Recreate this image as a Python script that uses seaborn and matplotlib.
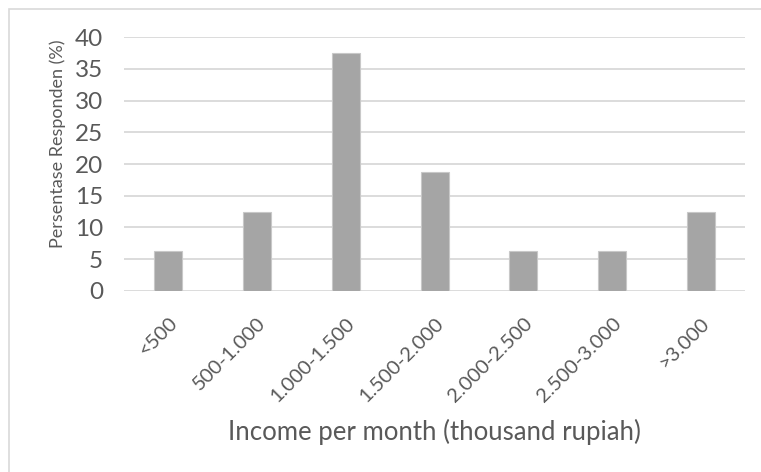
import matplotlib
matplotlib.use("Agg")
import matplotlib.pyplot as plt
import seaborn as sns
import pandas as pd
from matplotlib.patches import Rectangle

categories = ['<500', '500-1.000', '1.000-1.500', '1.500-2.000',
              '2.000-2.500', '2.500-3.000', '>3.000']
persentase = [6.25, 12.5, 37.5, 18.75, 6.25, 6.25, 12.5]

df = pd.DataFrame({'Income': categories, 'Persentase': persentase})

sns.set_style("white")
plt.rcParams['font.family'] = ['Lato', 'DejaVu Sans']

text_color = '#595959'
grid_color = '#d9d9d9'

fig = plt.figure(figsize=(7.61, 4.72), dpi=100)
ax = fig.add_axes([0.163, 0.384, 0.8164, 0.537])

# chart border like the spreadsheet frame
fig.patches.append(Rectangle((9 / 761, -0.1), 1.2, 1 - 8.5 / 472 + 0.1,
                             transform=fig.transFigure, fill=False,
                             edgecolor=grid_color, linewidth=1.2))

sns.barplot(data=df, x='Income', y='Persentase', color='#a5a5a5',
            width=0.315, edgecolor='#c8c8c8', linewidth=0.8,
            saturation=1, ax=ax, zorder=3)

ax.set_ylim(0, 40)
ax.set_yticks(range(0, 41, 5))
ax.set_xlim(-0.5, len(categories) - 0.5)
ax.yaxis.grid(True, color=grid_color, linewidth=1.3, zorder=0)
ax.set_axisbelow(True)
for s in ax.spines.values():
    s.set_visible(False)
ax.tick_params(axis='both', length=0, colors=text_color)
ax.tick_params(axis='y', pad=15, labelsize=17.5)
ax.tick_params(axis='x', pad=17)
ax.set_xticks(range(len(categories)))
ax.set_xticklabels(categories, rotation=45, ha='right', va='top',
                   rotation_mode='anchor', fontsize=14.5)

ax.set_xlabel('Income per month (thousand rupiah)', fontsize=18.5,
              color=text_color, va='center')
ax.xaxis.set_label_coords(0.5, -0.556)
ax.set_ylabel('Persentase Responden (%)', fontsize=13,
              color=text_color, va='center')
ax.yaxis.set_label_coords(-0.106, 0.579)

fig.savefig('out.png', dpi=100)
